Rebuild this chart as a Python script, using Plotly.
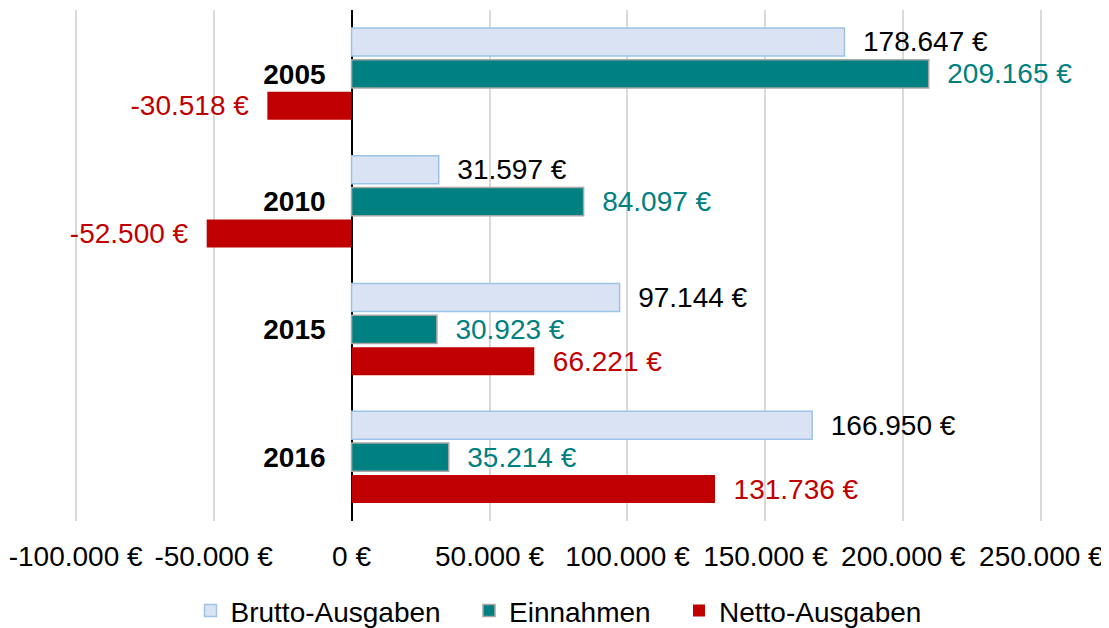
import plotly.graph_objects as go

years = ["2005", "2010", "2015", "2016"]
brutto = [178647, 31597, 97144, 166950]
einnahmen = [209165, 84097, 30923, 35214]
netto = [-30518, -52500, 66221, 131736]
series_names = ["Brutto-Ausgaben", "Einnahmen", "Netto-Ausgaben"]
x_ticks = [-100000, -50000, 0, 50000, 100000, 150000, 200000, 250000]

X_MIN, X_MAX = -100600, 250600
FONT = "Liberation Sans, Arial, sans-serif"
FS = 28
NB = "\u00a0\u00a0"


def de(v):
    s = f"{abs(v):,}".replace(",", ".")
    return ("-" if v < 0 else "") + s + " €"


def labels(vals):
    return [(NB + de(v)) if v >= 0 else (de(v) + NB) for v in vals]


fig = go.Figure()
specs = [
    (brutto, "#DAE3F3", dict(color="#9DC3E6", width=1.5), "#000000"),
    (einnahmen, "#008080", dict(color="#A6A6A6", width=1.5), "#008080"),
    (netto, "#C00000", dict(color="#C00000", width=0), "#C00000"),
]
for i, (name, (vals, fill, line, tcol)) in enumerate(zip(series_names, specs)):
    legend_name = name + ("\u00a0\u00a0\u00a0" if i < len(series_names) - 1 else "")
    fig.add_trace(go.Bar(
        y=years, x=vals, orientation="h", name=legend_name,
        marker=dict(color=fill, line=line),
        text=labels(vals), textposition="outside",
        textfont=dict(family=FONT, size=FS, color=tcol),
        constraintext="none", cliponaxis=False,
    ))

fig.update_layout(
    width=1101, height=620,
    margin=dict(l=66, r=66, t=2, b=107, autoexpand=False),
    barmode="group", bargap=0.25, bargroupgap=0.12,
    plot_bgcolor="white", paper_bgcolor="white",
    font=dict(family=FONT, size=FS, color="#000000"),
    legend=dict(orientation="h", x=0.5, xanchor="center", y=-0.127, yanchor="top",
                font=dict(family=FONT, size=FS, color="#000000"),
                traceorder="normal", itemwidth=30),
    xaxis=dict(range=[X_MIN, X_MAX], tickvals=x_ticks,
               ticktext=[de(v) for v in x_ticks], automargin=False,
               showgrid=True, gridcolor="#D9D9D9", gridwidth=1.5,
               zeroline=True, zerolinecolor="#000000", zerolinewidth=2,
               showline=False, ticks="", ticklabelstandoff=16,
               tickfont=dict(family=FONT, size=FS, color="#000000")),
    yaxis=dict(type="category", categoryorder="array", categoryarray=years,
               autorange="reversed", anchor="free", automargin=False,
               position=(0 - X_MIN) / (X_MAX - X_MIN),
               showgrid=False, zeroline=False, showline=False, ticks="",
               ticklabelstandoff=26,
               tickfont=dict(family=FONT, size=FS, color="#000000", weight="bold")),
)

fig.write_html("out.html")
